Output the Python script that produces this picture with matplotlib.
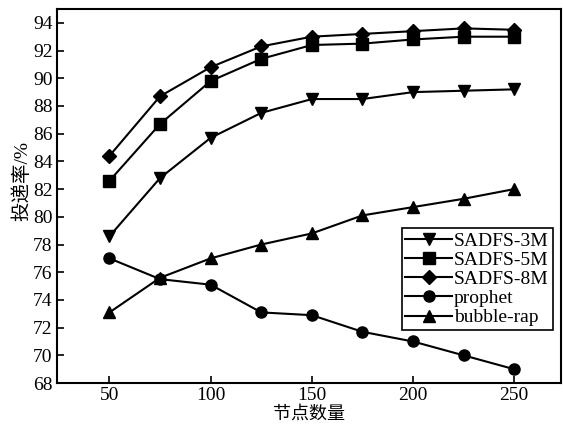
import matplotlib
matplotlib.use('Agg')
import matplotlib.pyplot as plt

# 数据
nodes = [50, 75, 100, 125, 150, 175, 200, 225, 250]
sadfs_3m = [78.6, 82.8, 85.7, 87.5, 88.5, 88.5, 89.0, 89.1, 89.2]
sadfs_5m = [82.6, 86.7, 89.8, 91.4, 92.4, 92.5, 92.8, 93.0, 93.0]
sadfs_8m = [84.4, 88.7, 90.8, 92.3, 93.0, 93.2, 93.4, 93.6, 93.5]
prophet = [77.0, 75.5, 75.1, 73.1, 72.9, 71.7, 71.0, 70.0, 69.0]
bubble_rap = [73.1, 75.6, 77.0, 78.0, 78.8, 80.1, 80.7, 81.3, 82.0]

x_ticks = [50, 100, 150, 200, 250]
y_ticks = list(range(68, 95, 2))

fonts = ['Liberation Serif', 'Noto Sans CJK SC']
plt.rcParams['font.family'] = fonts

fig = plt.figure(figsize=(5.63, 4.28), dpi=100)
ax = fig.add_axes([0.101, 0.105, 0.895, 0.874])

series = [
    (sadfs_3m, 'v', 'SADFS-3M'),
    (sadfs_5m, 's', 'SADFS-5M'),
    (sadfs_8m, 'D', 'SADFS-8M'),
    (prophet, 'o', 'prophet'),
    (bubble_rap, '^', 'bubble-rap'),
]
for vals, m, name in series:
    ms = 7 if m == 'D' else 8
    ax.plot(nodes, vals, color='black', marker=m, markersize=ms,
            linewidth=1.5, label=name)

ax.set_xlim(24, 273)
ax.set_ylim(68, 95)
ax.set_xticks(x_ticks)
ax.set_yticks(y_ticks)
ax.tick_params(direction='in', length=5, width=1.2, labelsize=14,
               top=False, right=False, pad=3)
for sp in ax.spines.values():
    sp.set_linewidth(1.5)

ax.set_xlabel('节点数量', fontsize=13, labelpad=1)
ax.set_ylabel('投递率/%', fontsize=14)
ax.yaxis.set_label_coords(-0.05, 0.54)

leg = ax.legend(loc='upper right', bbox_to_anchor=(0.984, 0.414),
                borderaxespad=0, fontsize=14, handlelength=2.4,
                handletextpad=0.1, labelspacing=0.08, borderpad=0.2,
                fancybox=False, edgecolor='black', framealpha=1)
leg.get_frame().set_linewidth(1.2)

fig.savefig('out.png', dpi=100)
